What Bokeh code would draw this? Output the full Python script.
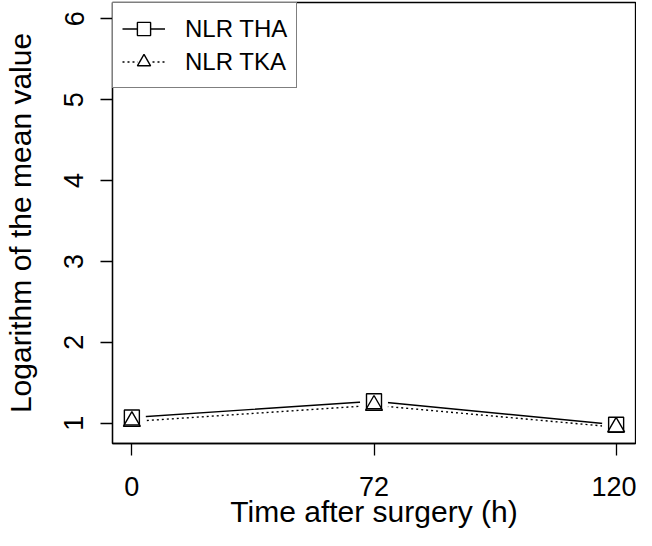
from bokeh.plotting import figure
from bokeh.models import Range1d, FixedTicker, Legend, LegendItem
from bokeh.embed import file_html
from bokeh.resources import INLINE

time_labels = ["0", "72", "120"]
nlr_tha = [1.07, 1.27, 0.98]
nlr_tka = [1.02, 1.22, 0.95]
series_names = ["NLR THA", "NLR TKA"]

xs = [i + 1 for i in range(len(time_labels))]

FONT = "Liberation Sans"

p = figure(width=636, height=530, output_backend="svg", toolbar_location=None,
           x_range=Range1d(0.92, 3.08), y_range=Range1d(0.748, 6.202),
           min_border_left=108, min_border_right=1, min_border_top=2, min_border_bottom=85)
p.background_fill_color = "white"
p.border_fill_color = "white"
p.outline_line_color = "black"
p.outline_line_width = 1.3
p.grid.visible = False

# lines
l1 = p.line(xs, nlr_tha, line_color="black", line_width=1.4)
l2 = p.line(xs, nlr_tka, line_color="black", line_width=1.4, line_dash="2 3")
# white masks to create gaps around the points (like R type="b")
mask = p.scatter(xs + xs, nlr_tha + nlr_tka, marker="circle", size=28, fill_color="white",
                 line_color=None)
s1 = p.scatter(xs, nlr_tha, marker="square", size=15, fill_color=None,
               line_color="black", line_width=1.4)
s2 = p.scatter(xs, nlr_tka, marker="triangle", size=17, fill_color=None,
               line_color="black", line_width=1.4)

# axes
for ax in (p.xaxis[0], p.yaxis[0]):
    ax.axis_line_color = "black"
    ax.axis_line_width = 1.3
    ax.major_tick_line_color = "black"
    ax.major_tick_line_width = 1.3
    ax.major_tick_out = 12
    ax.major_tick_in = 0
    ax.minor_tick_line_color = None
    ax.major_label_text_font = FONT
    ax.major_label_text_font_size = "27px"
    ax.major_label_text_color = "black"
    ax.axis_label_text_font = FONT
    ax.axis_label_text_font_size = "30px"
    ax.axis_label_text_font_style = "normal"
    ax.axis_label_text_color = "black"

p.xaxis[0].ticker = FixedTicker(ticks=xs)
p.xaxis[0].major_label_overrides = {x: lab for x, lab in zip(xs, time_labels)}
p.xaxis[0].axis_label = "Time after surgery (h)"
p.xaxis[0].major_label_standoff = 21
p.xaxis[0].axis_label_standoff = -4

p.yaxis[0].ticker = FixedTicker(ticks=[1, 2, 3, 4, 5, 6])
p.yaxis[0].axis_label = "Logarithm of the mean value"
p.yaxis[0].major_label_orientation = "vertical"
p.yaxis[0].major_label_standoff = 17
p.yaxis[0].axis_label_standoff = 25

legend = Legend(items=[LegendItem(label=series_names[0], renderers=[l1, mask, s1]),
                       LegendItem(label=series_names[1], renderers=[l2, mask, s2])],
                location="top_left", margin=0, padding=9, spacing=0,
                label_text_font=FONT, label_text_font_size="24px",
                label_text_color="black",
                label_standoff=20, glyph_width=43, glyph_height=33,
                border_line_color="black", border_line_width=1.3,
                background_fill_color="white", background_fill_alpha=1.0)
p.add_layout(legend)

open("out.html", "w").write(file_html(p, INLINE))
